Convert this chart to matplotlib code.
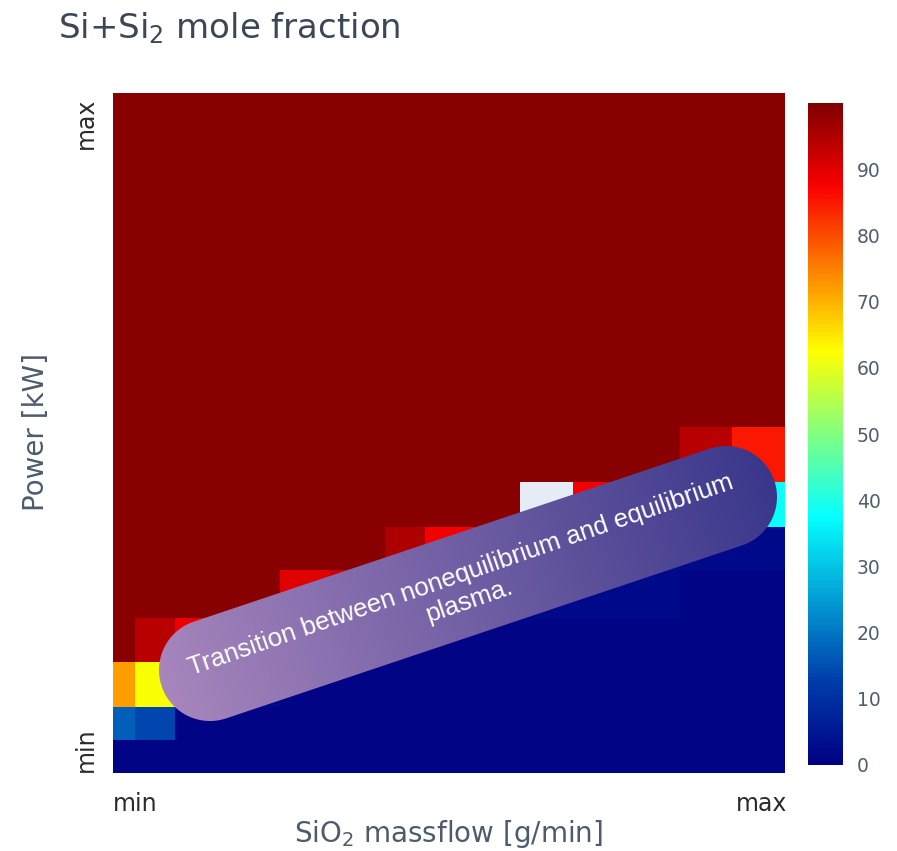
import numpy as np
import matplotlib
matplotlib.use("Agg")
import matplotlib.pyplot as plt
from matplotlib.colors import LinearSegmentedColormap
from matplotlib.patches import Polygon

plt.rcParams["font.family"] = "DejaVu Sans"
plt.rcParams["mathtext.default"] = "regular"

# Grid edges in relative units (0 = min, 100 = max)
massflow_edges = [0, 3.3, 9.2, 16.7, 24.9, 32.3, 40.5, 46.4, 53.9, 60.6, 68.5, 76.5, 84.4, 92.1, 100]
power_edges = [0, 4.9, 9.7, 16.3, 22.8, 29.9, 36.2, 42.8, 50.9, 57.9, 64.9, 71.9, 79.0, 86.0, 93.0, 100]

# Si+Si2 mole fraction, rows from lowest to highest power
nan = np.nan
row0 = [1, 1, 1, 1, 1, 1, 1, 1, 1, 1, 1, 1, 1, 1]
row1 = [17, 14, 1, 1, 1, 1, 1, 1, 1, 1, 1, 1, 1, 1]
row2 = [72, 62, 2, 2, 1, 1, 1, 1, 1, 1, 1, 1, 1, 1]
row3 = [99, 94, 89, 91, 2, 2, 1, 1, 1, 1, 1, 1, 1, 1]
row4 = [99, 99, 99, 99, 90, 92, 3, 2, 2, 2, 2, 2, 1, 1]
row5 = [99, 99, 99, 99, 99, 99, 95, 88, 91, 3, 3, 3, 2, 2]
row6 = [99, 99, 99, 99, 99, 99, 99, 99, 99, nan, 88, 92, 5, 38]
row7 = [99, 99, 99, 99, 99, 99, 99, 99, 99, 99, 99, 99, 94, 85]
row_top = [99] * 14
mole_fraction = np.array([row0, row1, row2, row3, row4, row5, row6, row7] + [row_top] * 7, dtype=float)

x_ticks = [3.3, 96.5]
y_ticks = [3.5, 95.6]
tick_labels = ["min", "max"]
cbar_ticks = list(range(0, 100, 10))

# Plotly-style Jet
jet = LinearSegmentedColormap.from_list("plotly_jet", [
    (0.0, (0 / 255, 0 / 255, 131 / 255)),
    (0.125, (0 / 255, 60 / 255, 170 / 255)),
    (0.375, (5 / 255, 255 / 255, 255 / 255)),
    (0.625, (255 / 255, 255 / 255, 0 / 255)),
    (0.875, (250 / 255, 0 / 255, 0 / 255)),
    (1.0, (128 / 255, 0 / 255, 0 / 255)),
])

W, H = 897, 851
fig = plt.figure(figsize=(W / 100, H / 100), dpi=100)
ax = fig.add_axes([113 / W, 1 - 773 / H, 672 / W, 680 / H])
ax.set_facecolor("#e5ecf6")
mesh = ax.pcolormesh(massflow_edges, power_edges, np.ma.masked_invalid(mole_fraction),
                     cmap=jet, vmin=0, vmax=100)
ax.set_xlim(0, 100)
ax.set_ylim(0, 100)
for s in ax.spines.values():
    s.set_visible(False)

ax.set_xticks(x_ticks)
ax.set_xticklabels(tick_labels)
ax.set_yticks(y_ticks)
ax.set_yticklabels(tick_labels, rotation=90, va="center")
ax.tick_params(axis="x", length=0, pad=14, labelsize=17, labelcolor="#2b2b2b")
ax.tick_params(axis="y", length=0, pad=11, labelsize=17, labelcolor="#2b2b2b")

# Colorbar
cax = fig.add_axes([808 / W, 1 - 765 / H, 35 / W, 662 / H])
cb = fig.colorbar(mesh, cax=cax, ticks=cbar_ticks)
cb.outline.set_visible(False)
cax.tick_params(length=0, pad=10, labelsize=13.5, labelcolor="#4f5d6e")

# Titles
fig.text(58 / W, 1 - 38 / H, r"Si+Si$_2$ mole fraction", ha="left", va="baseline",
         fontsize=24.5, color="#3b4656")
fig.text(448 / W, 1 - 842 / H, r"SiO$_2$ massflow [g/min]", ha="center", va="baseline",
         fontsize=20, color="#4d5b6c")
fig.text(36 / W, 1 - 432 / H, "Power [kW]", ha="center", va="center", rotation=90,
         fontsize=20, color="#4d5b6c")

# Annotation pill (overlay in pixel coordinates)
note = fig.add_axes([0, 0, 1, 1], zorder=5)
note.set_xlim(0, W)
note.set_ylim(H, 0)
note.axis("off")
note.patch.set_alpha(0)

p0 = np.array([210.0, 670.0])
p1 = np.array([726.0, 497.0])
r = 51.0
L = np.linalg.norm(p1 - p0)
d = (p1 - p0) / L
theta = np.arctan2(d[1], d[0])
a1 = np.linspace(theta - np.pi / 2, theta + np.pi / 2, 60)
a0 = np.linspace(theta + np.pi / 2, theta + 3 * np.pi / 2, 60)
pts = np.vstack([
    np.column_stack([p1[0] + r * np.cos(a1), p1[1] + r * np.sin(a1)]),
    np.column_stack([p0[0] + r * np.cos(a0), p0[1] + r * np.sin(a0)]),
])
pill = Polygon(pts, closed=True, facecolor="none", edgecolor="none")
note.add_patch(pill)

yy, xx = np.mgrid[0:H, 0:W] + 0.5
start = p0 - r * d
t = np.clip(((xx - start[0]) * d[0] + (yy - start[1]) * d[1]) / (L + 2 * r), 0, 1)
c0 = np.array([0.655, 0.525, 0.740])
c1 = np.array([0.225, 0.215, 0.545])
grad = c0 + t[..., None] * (c1 - c0)
im = note.imshow(grad, extent=(0, W, H, 0), origin="upper", interpolation="bilinear")
im.set_clip_path(pill)
note.set_xlim(0, W)
note.set_ylim(H, 0)

note.text(465, 588, "Transition between nonequilibrium and equilibrium\nplasma.",
          rotation=19, rotation_mode="anchor", ha="center", va="center",
          multialignment="center", color="white", fontsize=18.6,
          family="Liberation Sans")

fig.savefig("out.png", dpi=100)
